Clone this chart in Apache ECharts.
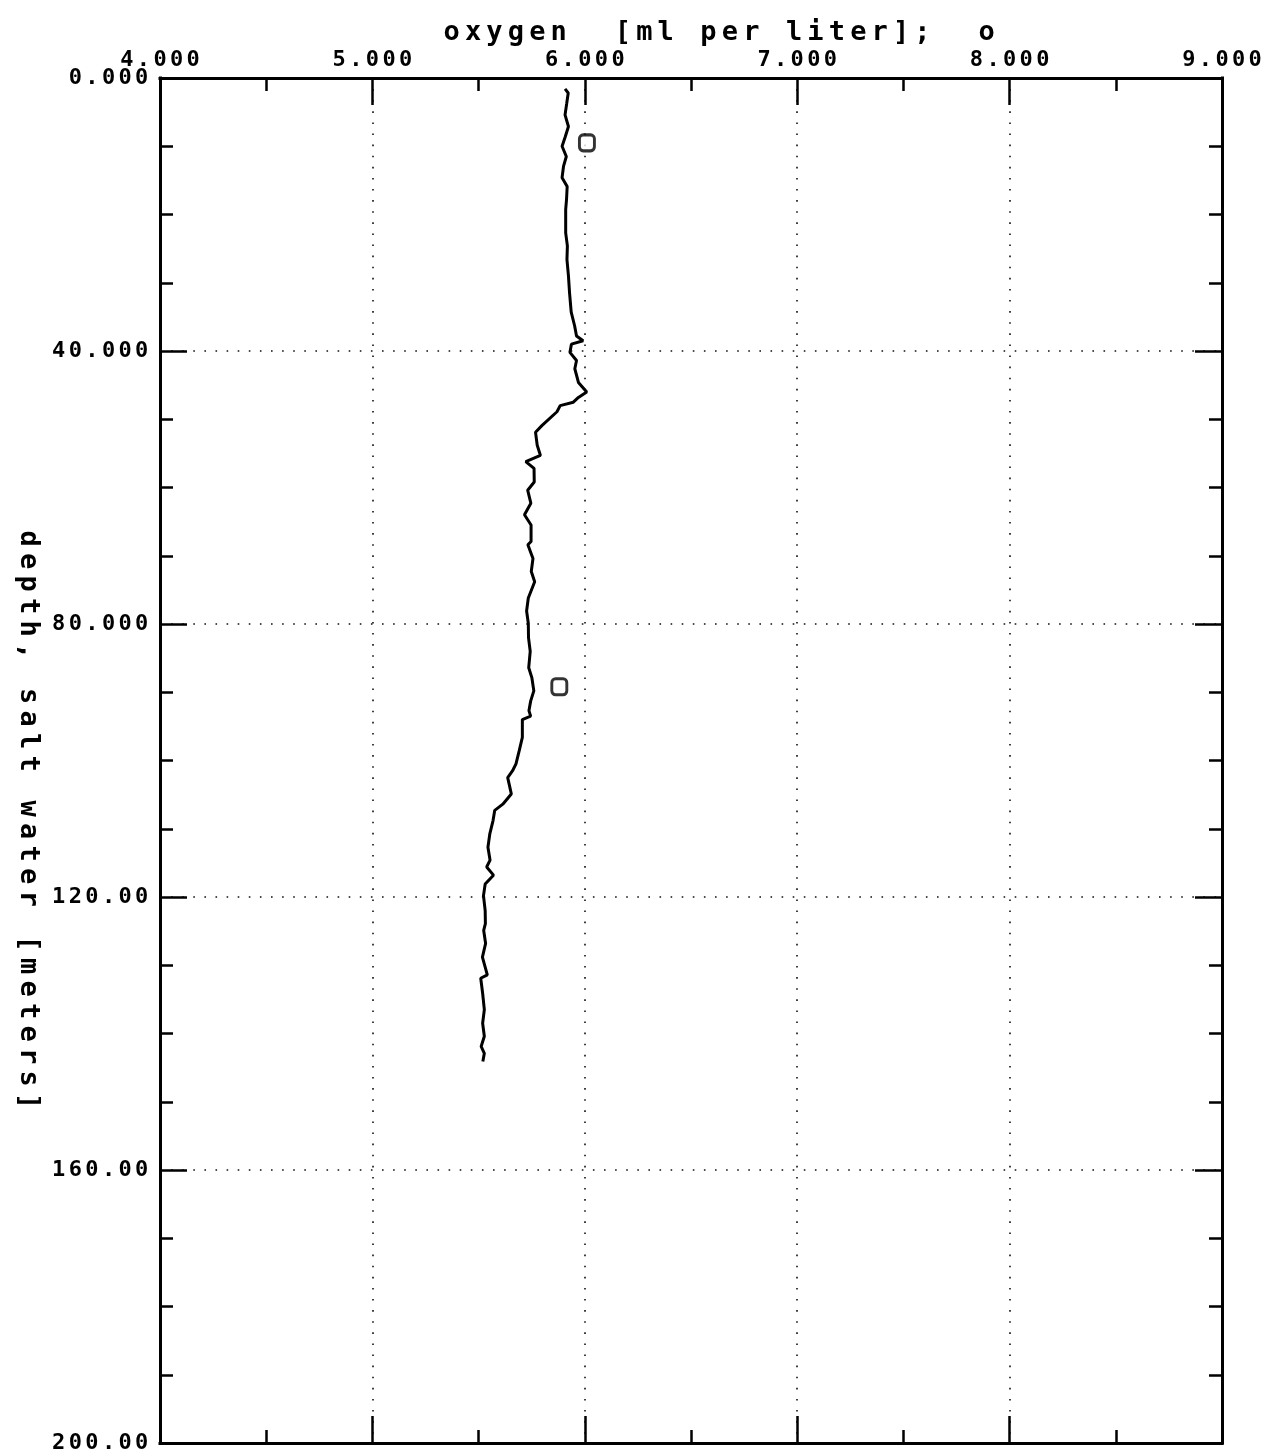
<!DOCTYPE html>
<html>
<head>
<meta charset="utf-8">
<title>oxygen profile</title>
<script src="https://cdn.jsdelivr.net/npm/echarts@6/dist/echarts.min.js"></script>
<style>
  html, body { margin: 0; padding: 0; background: #fff; }
  #chart { width: 1284px; height: 1456px; }
</style>
</head>
<body>
<div id="chart"></div>
<script>
// CTD cast: depth [m] and dissolved oxygen [ml per liter]
const depth = [1.6, 2.2, 3.7, 5.4, 7.1, 8.6, 10.0, 11.5, 12.9, 14.6,
  15.9, 17.8, 19.3, 22.7, 24.6, 26.6, 29.0, 31.4, 34.3, 36.3,
  37.8, 38.5, 39.0, 40.2, 41.4, 42.6, 44.6, 46.0, 46.8, 47.5,
  48.0, 48.9, 50.9, 51.9, 53.8, 55.3, 56.2, 57.2, 59.2, 60.4,
  62.3, 64.0, 65.5, 67.9, 68.4, 70.4, 72.3, 73.8, 76.2, 78.1,
  79.9, 82.0, 84.0, 86.4, 87.9, 89.8, 91.3, 92.7, 93.5, 94.0,
  96.6, 98.6, 100.5, 101.5, 102.5, 104.9, 106.4, 107.3, 108.8, 110.7,
  112.7, 114.6, 115.6, 116.8, 118.1, 119.8, 122.0, 123.9, 124.9, 126.8,
  128.8, 131.4, 131.9, 134.1, 136.5, 138.5, 140.4, 141.9, 142.9, 144.1];

const oxygen = [5.907, 5.922, 5.915, 5.907, 5.923, 5.908, 5.893, 5.913, 5.900, 5.893,
  5.917, 5.914, 5.910, 5.910, 5.918, 5.916, 5.923, 5.928, 5.936, 5.952,
  5.961, 5.992, 5.937, 5.930, 5.961, 5.953, 5.970, 6.009, 5.970, 5.946,
  5.884, 5.869, 5.799, 5.768, 5.776, 5.791, 5.722, 5.761, 5.762, 5.731,
  5.746, 5.716, 5.747, 5.747, 5.732, 5.756, 5.748, 5.764, 5.734, 5.726,
  5.734, 5.735, 5.743, 5.736, 5.751, 5.760, 5.745, 5.737, 5.745, 5.706,
  5.706, 5.691, 5.676, 5.660, 5.637, 5.654, 5.614, 5.576, 5.568, 5.553,
  5.544, 5.554, 5.538, 5.570, 5.531, 5.523, 5.531, 5.532, 5.524, 5.533,
  5.518, 5.541, 5.510, 5.519, 5.527, 5.519, 5.527, 5.512, 5.527, 5.520];

// bottle samples marked with "o"
const sampleDepth = [9.5, 89.2];
const sampleOxygen = [6.01, 5.88];

// axis ranges
const oxygenMin = 4, oxygenMax = 9, oxygenStep = 1;
const depthMin = 0, depthMax = 200, depthStep = 40;

const titleText = 'oxygen  [ml per liter];  o';
const depthName = 'depth, salt water [meters]';

const FONT = '"DejaVu Sans Mono", "Liberation Mono", monospace';
const INK = '#000';

// lay text out on a fixed character grid, like a pen plotter
function grid(str, key) {
  return str.split('').map(ch => '{' + key + '|' + ch + '}').join('');
}
function fmtOxygen(v) { return v.toFixed(3); }
function fmtDepth(v) { return v < 100 ? v.toFixed(3) : v.toFixed(2); }

const labelRich = {
  c: { width: 16.6, align: 'center', fontFamily: FONT, fontSize: 22, fontWeight: 'bold', color: INK, lineHeight: 20 }
};

const axisLine = { show: true, onZero: false, lineStyle: { color: INK, width: 3, cap: 'square' } };
const majorTick = { show: true, inside: true, length: 27, lineStyle: { color: INK, width: 2.5 } };
const minorTick = (n) => ({ show: true, splitNumber: n, length: 13, lineStyle: { color: INK, width: 2.5 } });
const dotted = { show: true, lineStyle: { color: '#111', width: 1.6, type: [1.6, 9.5] } };

const chart = echarts.init(document.getElementById('chart'), null, { renderer: 'canvas' });

chart.setOption({
  backgroundColor: '#fff',
  animation: false,
  title: {
    text: grid(titleText, 't'),
    left: 436,
    top: 13,
    textStyle: {
      fontWeight: 'normal',
      rich: { t: { width: 21.4, align: 'center', fontFamily: FONT, fontSize: 27, fontWeight: 'bold', color: INK, lineHeight: 30 } }
    }
  },
  grid: { left: 160, right: 62, top: 78, bottom: 13, containLabel: false, outerBoundsMode: 'none' },
  xAxis: [
    {
      type: 'value', position: 'top', min: oxygenMin, max: oxygenMax, interval: oxygenStep,
      axisLine: axisLine,
      axisTick: majorTick,
      minorTick: minorTick(2),
      splitLine: dotted,
      axisLabel: {
        show: true, margin: 8, showMinLabel: true, showMaxLabel: true, hideOverlap: false,
        formatter: v => grid(fmtOxygen(v), 'c'), rich: labelRich
      }
    },
    {
      type: 'value', position: 'bottom', min: oxygenMin, max: oxygenMax, interval: oxygenStep,
      axisLine: axisLine,
      axisTick: majorTick,
      minorTick: minorTick(2),
      splitLine: { show: false },
      axisLabel: { show: false }
    }
  ],
  yAxis: [
    {
      type: 'value', position: 'left', inverse: true, min: depthMin, max: depthMax, interval: depthStep,
      axisLine: axisLine,
      axisTick: majorTick,
      minorTick: minorTick(4),
      splitLine: dotted,
      axisLabel: {
        show: true, margin: 10, showMinLabel: true, showMaxLabel: true, hideOverlap: false,
        formatter: v => grid(fmtDepth(v), 'c'), rich: labelRich
      }
    },
    {
      type: 'value', position: 'right', inverse: true, min: depthMin, max: depthMax, interval: depthStep,
      axisLine: axisLine,
      axisTick: majorTick,
      minorTick: minorTick(4),
      splitLine: { show: false },
      axisLabel: { show: false }
    }
  ],
  graphic: [
    {
      type: 'text',
      x: 28, y: 820,
      rotation: -Math.PI / 2,
      style: {
        text: grid(depthName, 'n'),
        align: 'center', verticalAlign: 'middle',
        rich: { n: { width: 22.5, align: 'center', fontFamily: FONT, fontSize: 27, fontWeight: 'bold', fill: INK, lineHeight: 30 } }
      }
    }
  ],
  series: [
    {
      name: 'oxygen',
      type: 'line',
      xAxisIndex: 0, yAxisIndex: 0,
      data: depth.map((d, i) => [oxygen[i], d]),
      showSymbol: false,
      symbol: 'none',
      smooth: false,
      lineStyle: { color: INK, width: 3 },
      z: 5
    },
    {
      name: 'oxygen samples',
      type: 'scatter',
      xAxisIndex: 0, yAxisIndex: 0,
      data: sampleDepth.map((d, i) => [sampleOxygen[i], d]),
      symbol: 'roundRect',
      symbolSize: [15, 16],
      itemStyle: { color: '#fff', borderColor: INK, borderWidth: 3 },
      z: 6
    }
  ]
});
</script>
</body>
</html>
